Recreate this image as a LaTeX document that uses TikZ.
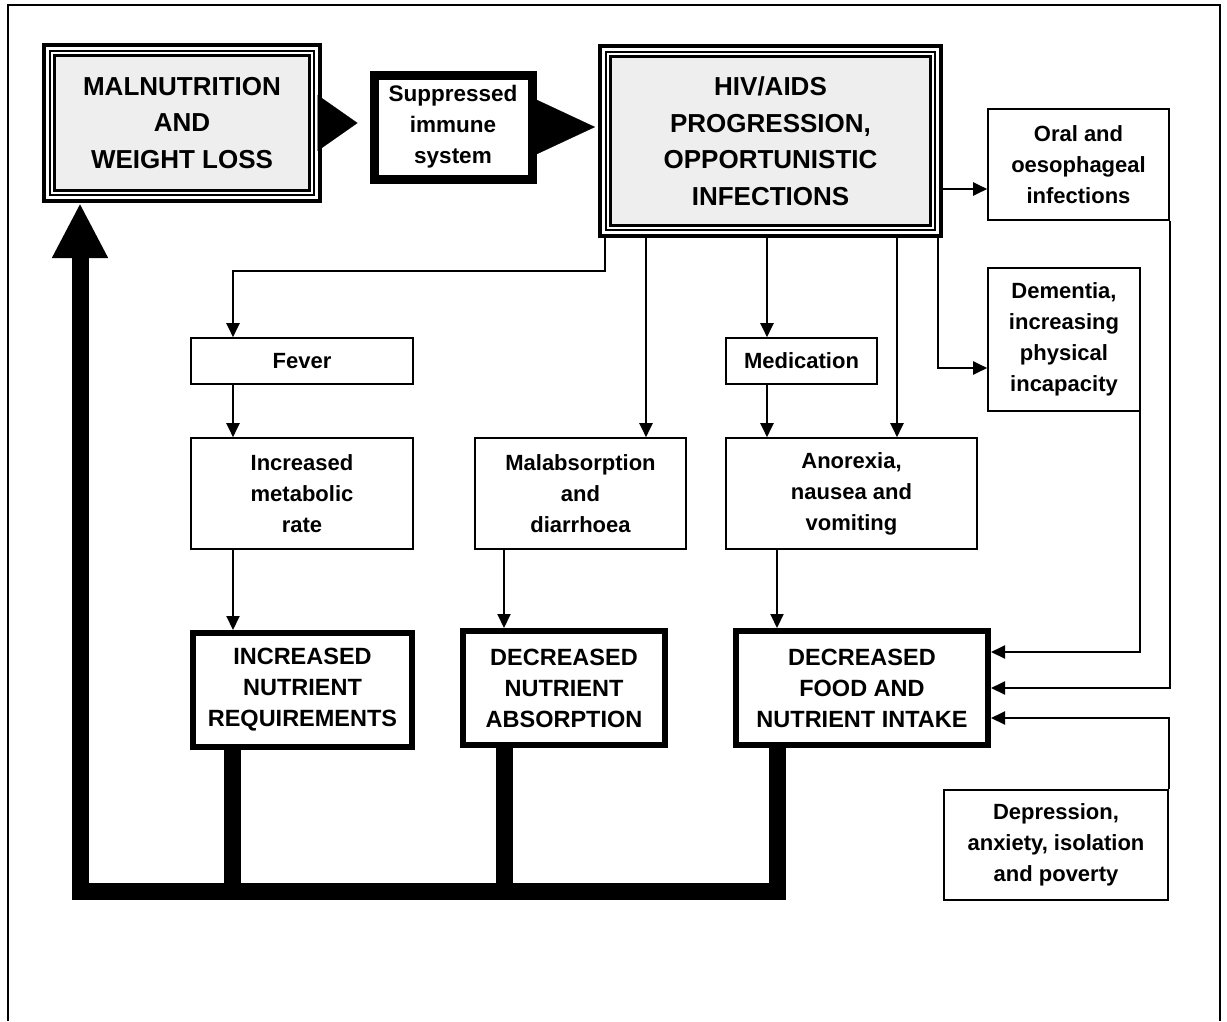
\documentclass[tikz,border=0pt]{standalone}
\usepackage{fontspec}
\setmainfont{Liberation Sans}
\usepackage{tikz}
\usetikzlibrary{calc,arrows.meta}

\begin{document}
\begin{tikzpicture}[x=1pt, y=-1pt,
    box/.style={rectangle, draw, line width=1.6pt, inner sep=0pt, align=center,
        font=\fontsize{22}{31}\selectfont\bfseries},
    heavybox/.style={box, line width=6pt, font=\fontsize{23.5}{31}\selectfont\bfseries},
    suppbox/.style={box, line width=9pt, font=\fontsize{22.5}{31}\selectfont\bfseries},
    triplebox/.style={box, line width=4pt, font=\fontsize{26}{36.5}\selectfont\bfseries,
        path picture={
            \draw [line width=1.2pt] ($(path picture bounding box.north west)+(6pt,-6pt)$)
                rectangle ($(path picture bounding box.south east)+(-6pt,6pt)$);
            \draw [line width=3.5pt, fill=gray!13] ($(path picture bounding box.north west)+(10.5pt,-10.5pt)$)
                rectangle ($(path picture bounding box.south east)+(-10.5pt,10.5pt)$);
        }},
    arr/.style={line width=2pt, -{Triangle[length=14pt,width=13pt]}},
    wedge/.style={draw, line width=0.1pt, -{Triangle[length=#1,width=56pt]}},
    fb/.style={line width=17pt}]
    \useasboundingbox (0,0) rectangle (1227,1021);
    % outer frame
    \draw [line width=1.5pt] (8,1021) -- (8,5) -- (1220,5) -- (1220,1021);
    % Place nodes
    \node [triplebox, minimum width=276pt, minimum height=156pt] (malnut) at (182,123) {MALNUTRITION\\AND\\WEIGHT LOSS};
    \node [suppbox, minimum width=158pt, minimum height=104pt] (supp) at (453,127) {Suppressed\\immune\\system};
    \node [triplebox, minimum width=341pt, minimum height=190pt] (hiv) at (770.5,141) {HIV/AIDS\\PROGRESSION,\\OPPORTUNISTIC\\INFECTIONS};
    \node [box, minimum width=181pt, minimum height=111pt] (oral) at (1078.5,164.5) {Oral and\\oesophageal\\infections};
    \node [box, minimum width=152pt, minimum height=143pt] (dement) at (1064,339.5) {Dementia,\\increasing\\physical\\incapacity};
    \node [box, minimum width=222pt, minimum height=46pt] (fever) at (302,361) {Fever};
    \node [box, minimum width=151pt, minimum height=46pt] (medic) at (801.5,361) {Medication};
    \node [box, minimum width=222pt, minimum height=111pt] (incr) at (302,493.5) {Increased\\metabolic\\rate};
    \node [box, minimum width=211pt, minimum height=111pt] (malabs) at (580.5,493.5) {Malabsorption\\and\\diarrhoea};
    \node [box, minimum width=251pt, minimum height=111pt] (anorex) at (851.5,493.5) {Anorexia,\\nausea and\\vomiting};
    \node [heavybox, minimum width=219pt, minimum height=114pt] (reqs) at (302.5,690) {INCREASED\\NUTRIENT\\REQUIREMENTS};
    \node [heavybox, minimum width=202pt, minimum height=114pt] (absorb) at (564,688) {DECREASED\\NUTRIENT\\ABSORPTION};
    \node [heavybox, minimum width=252pt, minimum height=114pt] (intake) at (862,688) {DECREASED\\FOOD AND\\NUTRIENT INTAKE};
    \node [box, minimum width=224pt, minimum height=110pt] (depress) at (1056,845) {Depression,\\anxiety, isolation\\and poverty};
    \coordinate (fbL) at (80,891);

    % top row
    \path [wedge=40pt, shorten >=12pt, shorten <=2pt] (malnut.east) -- (malnut.east -| supp.west);
    \path [wedge=60pt, shorten >=3pt, shorten <=4.5pt] (supp.east) -- (supp.east -| hiv.west);
    \path [draw, arr] ([yshift=-24.5pt]oral.west -| hiv.east) -- ([yshift=-24.5pt]oral.west);
    \path [draw, arr] ([xshift=-5pt]hiv.south east) |- ([yshift=-28.5pt]dement.west);
    % from HIV down
    \path [draw, arr] ([xshift=7pt]hiv.south west) -- ++(0,33) -| ([xshift=-69pt]fever.north);
    \path [draw, arr] ([xshift=65.5pt]malabs.north |- hiv.south) -- ([xshift=65.5pt]malabs.north);
    \path [draw, arr] ([xshift=-34.5pt]medic.north |- hiv.south) -- ([xshift=-34.5pt]medic.north);
    \path [draw, arr] ([xshift=45.5pt]anorex.north |- hiv.south) -- ([xshift=45.5pt]anorex.north);
    \path [draw, arr] ([xshift=-34.5pt]medic.south) -- ([xshift=-34.5pt]medic.south |- anorex.north);
    \path [draw, arr] ([xshift=-69pt]fever.south) -- ([xshift=-69pt]incr.north);
    % into the bottom row
    \path [draw, arr] ([xshift=-69pt]incr.south) -- ([xshift=-69pt]incr.south |- reqs.north);
    \path [draw, arr] ([xshift=-76.5pt]malabs.south) -- ([xshift=-76.5pt]malabs.south |- absorb.north);
    \path [draw, arr] ([xshift=-74.5pt]anorex.south) -- ([xshift=-74.5pt]anorex.south |- intake.north);
    \path [draw, arr] ([xshift=-1pt]dement.south east) |- ([yshift=36pt]intake.east);
    \path [draw, arr] (oral.south east) |- (intake.east);
    \path [draw, arr] (depress.north east) |- ([yshift=-30pt]intake.east);
    % feedback loop
    \path [draw, fb] ([xshift=-70.5pt]reqs.south) -- ([xshift=-70.5pt]reqs.south |- fbL);
    \path [draw, fb] ([xshift=-60pt]absorb.south) -- ([xshift=-60pt]absorb.south |- fbL);
    \path [draw, fb, -{Triangle[length=55pt,width=52pt]}] ([xshift=-85pt]intake.south) |- (fbL) -- (fbL |- malnut.south);
\end{tikzpicture}
\end{document}
